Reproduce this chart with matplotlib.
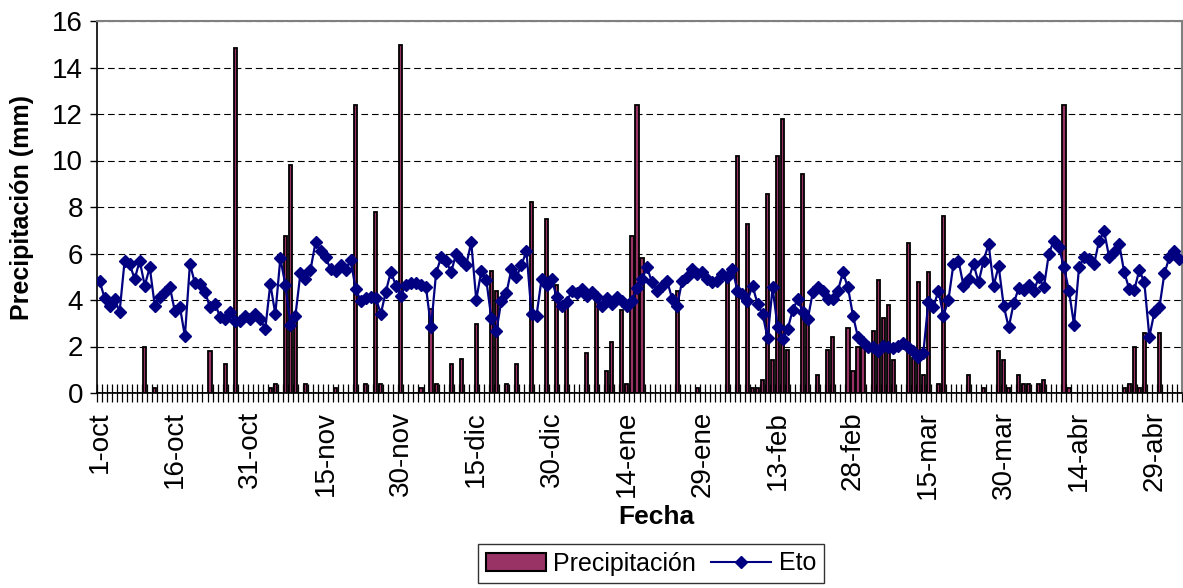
import matplotlib
matplotlib.use("Agg")
import matplotlib.pyplot as plt
from matplotlib.patches import Patch
from matplotlib.lines import Line2D
import numpy as np

plt.rcParams['font.family'] = ['Liberation Sans', 'DejaVu Sans']

# ---- data (one value per day, 1-oct ... 4-may) ----
precipitacion = [
    0, 0, 0, 0, 0, 0, 0, 0, 0, 2.0, 0, 0.2, 0, 0, 0,
    0, 0, 0, 0, 0, 0, 0, 1.8, 0, 0, 1.25, 0, 14.85, 0, 0,
    0, 0, 0, 0, 0.2, 0.4, 0, 6.75, 9.8, 3.1, 0, 0.4, 0, 0, 0,
    0, 0, 0.2, 0, 0, 0, 12.4, 0, 0.4, 0, 7.8, 0.4, 0, 0, 0,
    14.95, 0, 0, 0, 0.2, 0, 3.6, 0.4, 0, 0, 1.25, 0, 1.45, 0, 0,
    2.95, 0, 0, 5.25, 4.4, 0, 0.4, 0, 1.25, 0, 0, 8.2, 0, 0, 7.5,
    0, 4.65, 0, 3.75, 0, 0, 0, 1.72, 0, 4.25, 0, 0.95, 2.2, 0, 3.55,
    0.4, 6.77, 12.4, 5.82, 0, 0, 0, 0, 0, 0, 4.4, 0, 0, 0, 0.2,
    0, 0, 0, 0, 0, 5.0, 0, 10.2, 0, 7.25, 0.2, 0.2, 0.55, 8.55, 1.42,
    10.2, 11.8, 1.83, 0, 0, 9.42, 3.0, 0, 0.78, 0, 1.83, 2.39, 0, 0, 2.78,
    0.94, 2.0, 1.97, 0, 2.65, 4.87, 3.22, 3.8, 1.42, 0, 0, 6.45, 1.5, 4.78, 0.78,
    5.22, 0, 0.4, 7.6, 0, 0, 0, 0, 0.77, 0, 0, 0.2, 0, 0, 1.82,
    1.43, 0.2, 0, 0.77, 0.4, 0.4, 0, 0.4, 0.56, 0, 0, 0, 12.4, 0.2, 0,
    0, 0, 0, 0, 0, 0, 0, 0, 0, 0.2, 0.4, 2.0, 0.2, 2.57, 0,
    0, 2.57, 0, 0, 0, 0,
]

eto = [
    4.83, 4.09, 3.76, 4.04, 3.5, 5.69, 5.55, 4.9, 5.69, 4.62, 5.4, 3.76, 4.11, 4.33, 4.57,
    3.51, 3.71, 2.44, 5.55, 4.72, 4.69, 4.36, 3.68, 3.83, 3.28, 3.18, 3.47, 3.11, 3.11, 3.33,
    3.18, 3.4, 3.18, 2.75, 4.69, 3.4, 5.79, 4.66, 2.94, 3.33, 5.15, 4.9, 5.29, 6.48, 6.12,
    5.84, 5.33, 5.26, 5.52, 5.29, 5.72, 4.47, 3.97, 4.09, 4.14, 4.09, 3.4, 4.36, 5.22, 4.62,
    4.19, 4.66, 4.72, 4.72, 4.66, 4.54, 2.82, 5.15, 5.84, 5.69, 5.19, 6.0, 5.7, 5.5, 6.48,
    4.01, 5.23, 4.86, 3.22, 2.65, 3.97, 4.29, 5.33, 4.97, 5.52, 6.09, 3.4, 3.33, 4.9, 4.66,
    4.9, 4.14, 3.76, 3.9, 4.4, 4.29, 4.47, 4.19, 4.33, 4.11, 3.76, 4.09, 3.83, 4.14, 3.97,
    3.76, 3.97, 4.52, 4.9, 5.4, 4.76, 4.4, 4.62, 4.83, 4.04, 3.76, 4.83, 4.97, 5.33, 5.12,
    5.19, 4.9, 4.76, 4.8, 5.12, 4.97, 5.33, 4.4, 4.26, 3.97, 4.62, 3.83, 3.4, 2.37, 4.54,
    2.82, 2.32, 2.75, 3.57, 4.04, 3.47, 3.18, 4.33, 4.55, 4.4, 4.04, 4.04, 4.4, 5.19, 4.54,
    3.33, 2.39, 2.18, 1.96, 1.99, 1.79, 2.04, 1.96, 1.94, 2.04, 2.14, 1.96, 1.82, 1.53, 1.71,
    3.9, 3.68, 4.4, 3.33, 4.0, 5.55, 5.69, 4.62, 4.9, 5.55, 4.76, 5.69, 6.41, 4.62, 5.45,
    3.76, 2.82, 3.86, 4.52, 4.43, 4.66, 4.4, 4.97, 4.54, 6.0, 6.55, 6.29, 5.4, 4.4, 2.94,
    5.4, 5.84, 5.75, 5.55, 6.55, 6.95, 5.84, 6.05, 6.41, 5.19, 4.47, 4.43, 5.29, 4.76, 2.42,
    3.47, 3.68, 5.15, 5.84, 6.12, 5.76,
]

tick_labels = ["1-oct", "16-oct", "31-oct", "15-nov", "30-nov", "15-dic", "30-dic",
               "14-ene", "29-ene", "13-feb", "28-feb", "15-mar", "30-mar", "14-abr", "29-abr"]
label_step = 15

# ---- figure ----
W, H = 1183, 588
fig = plt.figure(figsize=(W / 100, H / 100), dpi=100)
ax = fig.add_axes([97 / W, 1 - 393 / H, (1182 - 97) / W, (393 - 21) / H])

n = len(eto)
x = np.arange(n)
maroon = '#993366'
navy = '#000080'

ax.bar(x, precipitacion, width=0.62, color=maroon, edgecolor='black',
       linewidth=1.3, zorder=2)
ax.plot(x, eto, color=navy, linewidth=1.6, marker='D', markersize=6.5,
        markerfacecolor=navy, markeredgecolor=navy, zorder=3)

ax.set_xlim(-0.5, n - 0.5)
ax.set_ylim(0, 16)

# y axis
ax.set_yticks(np.arange(0, 17, 2))
ax.tick_params(axis='y', direction='out', length=5, width=1, labelsize=20, pad=5)
ax.yaxis.grid(True, color='black', linewidth=0.8, linestyle=(0, (6, 3.5)))
ax.set_axisbelow(True)

# x axis
ax.set_xticks(np.arange(0, n, label_step)[:len(tick_labels)])
ax.set_xticklabels(tick_labels, rotation=90, fontsize=20)
ax.tick_params(axis='x', which='major', length=0, pad=13)
ax.set_xticks(np.arange(-0.5, n, 1), minor=True)
ax.tick_params(axis='x', which='minor', direction='inout', length=13, width=0.9,
               color='black')
for lab in ax.get_xticklabels():
    lab.set_verticalalignment('top')

for s in ['top', 'right']:
    ax.spines[s].set_color('#808080')
    ax.spines[s].set_linewidth(1.5)
ax.spines['left'].set_color('black')
ax.spines['left'].set_linewidth(1.2)
ax.spines['bottom'].set_color('black')
ax.spines['bottom'].set_linewidth(1.2)

ax.set_ylabel('Precipitación (mm)', fontsize=18, fontweight='bold')
ax.yaxis.set_label_coords(-0.058, 0.5)
fig.text(656 / W, 1 - 517 / H, 'Fecha', fontsize=19, fontweight='bold',
         ha='center', va='center')

handles = [Patch(facecolor=maroon, edgecolor='black', linewidth=1.5),
           Line2D([], [], color=navy, linewidth=1.5, marker='D', markersize=6.5,
                  markerfacecolor=navy)]
leg = fig.legend(handles, ['Precipitación', 'Eto'], loc='center',
                 bbox_to_anchor=(651 / W, 1 - 563.5 / H), ncol=2, fontsize=18,
                 frameon=True, fancybox=False, edgecolor='black',
                 handlelength=2.4, handletextpad=0.3, columnspacing=0.6,
                 borderpad=0.3, borderaxespad=0)
leg.get_frame().set_linewidth(1.0)

fig.savefig('out.png', dpi=100, facecolor='white')
